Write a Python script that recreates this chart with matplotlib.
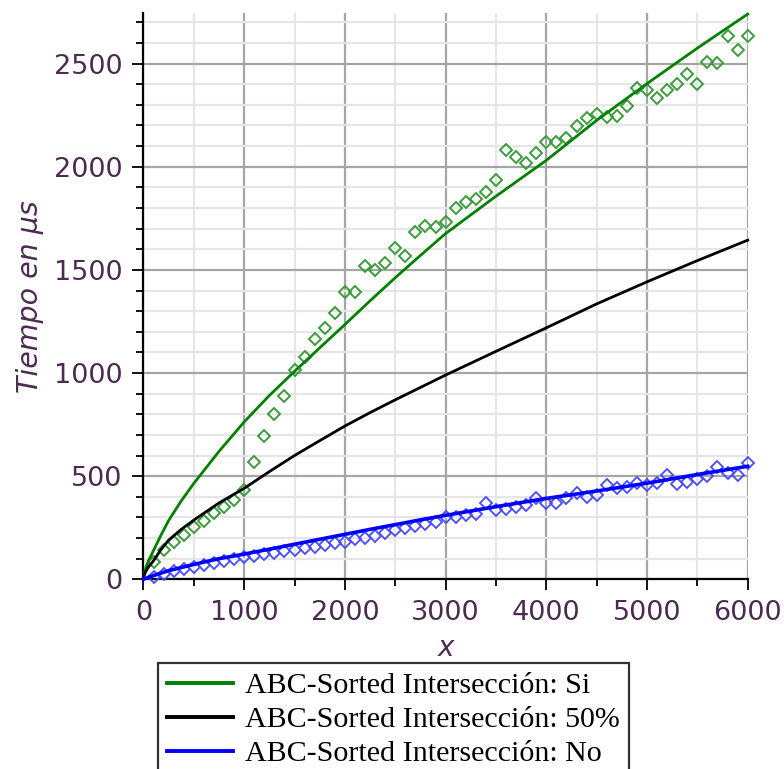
import matplotlib
matplotlib.use("Agg")
import matplotlib.pyplot as plt
from matplotlib.ticker import MultipleLocator

# Curvas ajustadas (muestreadas a mano del grafico)
x_line = [0, 25, 50, 100, 175, 250, 375, 500, 750, 1000, 1250, 1500, 1750, 2000, 2250,
          2500, 2750, 3000, 3500, 4000, 4500, 5000, 5500, 6000]
y_si = [10, 60, 90, 140, 215, 285, 380, 465, 620, 763, 891, 1008, 1122, 1235, 1350,
        1462, 1570, 1676, 1857, 2031, 2225, 2403, 2575, 2740]
y_50 = [10, 40, 60, 90, 145, 190, 242, 287, 370, 441, 522, 600, 672, 743, 808,
        870, 930, 990, 1105, 1219, 1335, 1442, 1545, 1644]
y_no = [0, 5, 10, 18, 30, 42, 57, 72, 100, 122, 146, 170, 194, 218, 242,
        265, 288, 310, 352, 392, 428, 466, 508, 548]

# Mediciones (rombos)
x_pts = list(range(100, 6001, 100))
pts_si = [85, 140, 180, 215, 255, 285, 320, 350, 385, 435,
          567, 694, 801, 888, 1017, 1076, 1163, 1219, 1289, 1393,
          1393, 1519, 1499, 1531, 1608, 1566, 1684, 1712, 1708, 1733,
          1800, 1830, 1846, 1878, 1935, 2083, 2045, 2020, 2069, 2120,
          2120, 2140, 2198, 2237, 2258, 2241, 2246, 2293, 2384, 2374,
          2333, 2374, 2400, 2452, 2400, 2508, 2505, 2632, 2564, 2632]
pts_no = [12, 26, 38, 48, 60, 70, 80, 90, 98, 108,
          114, 122, 128, 136, 142, 152, 158, 166, 174, 182,
          196, 200, 212, 222, 240, 250, 258, 268, 280, 300,
          300, 311, 318, 368, 336, 339, 352, 360, 392, 371,
          371, 392, 417, 401, 408, 457, 441, 449, 468, 457,
          465, 505, 462, 473, 484, 500, 543, 514, 506, 564]

labels = ["ABC-Sorted Intersección: Si", "ABC-Sorted Intersección: 50%",
          "ABC-Sorted Intersección: No"]

fig = plt.figure(figsize=(7.84, 7.69), dpi=100)
ax = fig.add_axes([0.183, 0.2467, 0.7707, 0.7363])

ax.set_xlim(0, 6000)
ax.set_ylim(0, 2745)

ax.xaxis.set_major_locator(MultipleLocator(1000))
ax.xaxis.set_minor_locator(MultipleLocator(500))
ax.yaxis.set_major_locator(MultipleLocator(500))
ax.yaxis.set_minor_locator(MultipleLocator(100))

ax.grid(which="minor", color="#e6e6e6", lw=1.6, zorder=0)
ax.grid(which="major", color="#a6a6a6", lw=1.6, zorder=0)
ax.set_axisbelow(True)

for s in ["top", "right"]:
    ax.spines[s].set_visible(False)
for s in ["left", "bottom"]:
    ax.spines[s].set_linewidth(1.6)
    ax.spines[s].set_color("black")

lbl_color = "#4b2b50"
ax.tick_params(which="major", length=8, width=1.3, direction="out",
               labelsize=19.5, labelcolor=lbl_color, pad=7)
ax.tick_params(which="minor", length=5, width=1.3, direction="out")

ax.plot(x_pts, pts_si, ls="none", marker="D", ms=5.8, mfc="none", mec="#3c9c3c",
        mew=1.4, clip_on=False, zorder=3)
ax.plot(x_pts, pts_no, ls="none", marker="D", ms=5.8, mfc="none", mec="#4a4aff",
        mew=1.3, clip_on=False, zorder=3)

ax.plot(x_line, y_si, color="#008000", lw=2.0, label=labels[0], zorder=4, clip_on=False)
ax.plot(x_line, y_50, color="black", lw=2.0, label=labels[1], zorder=4, clip_on=False)
ax.plot(x_line, y_no, color="#0000ff", lw=2.6, label=labels[2], zorder=4, clip_on=False)

ax.set_xlabel("x", fontsize=20, style="italic", color=lbl_color, labelpad=6)
ax.set_ylabel("Tiempo en μs", fontsize=20.5, style="italic", color=lbl_color, labelpad=7)

leg = fig.legend(loc="upper left", bbox_to_anchor=(158 / 784, 1 - 663 / 769),
                 borderaxespad=0, prop={"family": "Liberation Serif", "size": 21.6},
                 handlelength=2.2, handletextpad=0.4, labelspacing=0.24,
                 borderpad=0.3, fancybox=False, framealpha=1)
leg.get_frame().set_edgecolor("#333333")
leg.get_frame().set_linewidth(1.6)
for ln in leg.get_lines():
    ln.set_linewidth(2.8)

fig.savefig("out.png", dpi=100)
